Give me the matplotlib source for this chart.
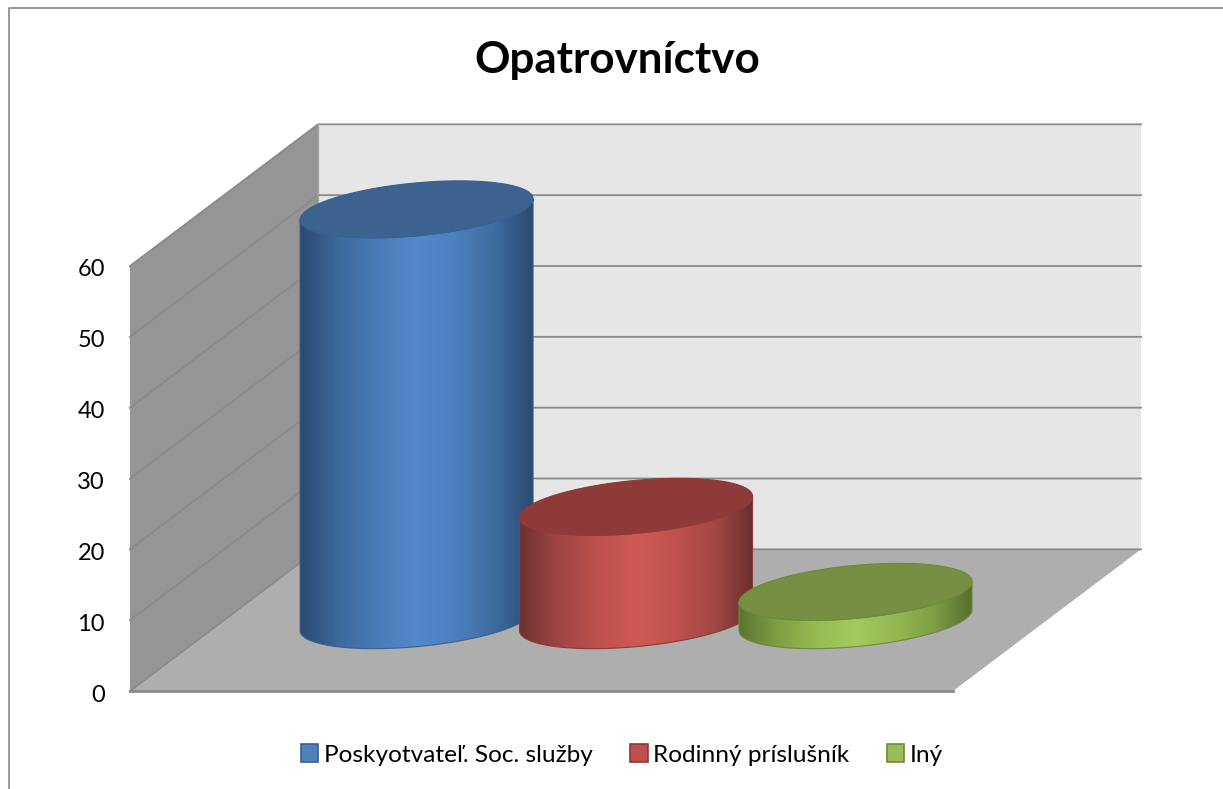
import matplotlib
matplotlib.use('Agg')
import matplotlib.pyplot as plt
import numpy as np
from matplotlib.colors import LinearSegmentedColormap
from matplotlib.patches import Patch, PathPatch, Polygon
from matplotlib.path import Path
from matplotlib.transforms import ScaledTranslation

plt.rcParams['font.family'] = ['Lato', 'DejaVu Sans']

categories = ['Poskyotvateľ. Soc. služby', 'Rodinný príslušník', 'Iný']
values = [58, 16, 4]
yticks = [0, 10, 20, 30, 40, 50, 60]
title = 'Opatrovníctvo'

side_colors = [
    ['#2b4a72', '#3d699c', '#4a7cb8', '#5588cc', '#4d80bf', '#3f6ca0', '#2b4a72'],
    ['#6e3230', '#a04643', '#bd504c', '#cf5a54', '#c0514d', '#a44845', '#6b302e'],
    ['#5c7530', '#7f9f45', '#97bb54', '#a4c95f', '#96b954', '#7f9f45', '#566e2d'],
]
top_colors = ['#3c6290', '#8e3a38', '#768f42']
edge_colors = ['#3a6090', '#8e3a38', '#6f8a3a']
legend_colors = ['#4f81bd', '#c0504d', '#9bbb59']

W, H = 1223, 789
# floor / wall geometry, one category spans 3 x units
x_scale = 823 / 3
y_scale = 425 / 60
depth_x = 188 / x_scale
depth_y = 20
bar_step = 0.8
bar_gap = 0.302
rx = 116.5 / x_scale
ry = 3.74
shear = 0.09 * x_scale / y_scale

fig = plt.figure(figsize=(W / 100, H / 100), dpi=100)
ax = fig.add_axes([0, 0, 1, 1])
ax.patch.set_visible(False)

# frame of the chart area
fig.add_artist(plt.Line2D([8.5 / W, 8.5 / W, 1], [0, 1 - 7.5 / H, 1 - 7.5 / H],
                          color='#878787', lw=1.2))

grid = '#8a8a8a'
ax.add_patch(Polygon([(0, 0), (3, 0), (3 + depth_x, depth_y), (depth_x, depth_y)],
                     fc='#aeaeae', ec='none', zorder=1))
ax.add_patch(Polygon([(0, 0), (depth_x, depth_y), (depth_x, 60 + depth_y), (0, 60)],
                     fc='#959595', ec='none', zorder=1))
ax.add_patch(Polygon([(depth_x, depth_y), (3 + depth_x, depth_y), (3 + depth_x, 60 + depth_y), (depth_x, 60 + depth_y)],
                     fc='#e6e6e6', ec='none', zorder=1))
for v in yticks:
    ax.plot([0, depth_x, 3 + depth_x], [v, v + depth_y, v + depth_y], color=grid, lw=1.3, zorder=2,
            solid_joinstyle='miter')
ax.plot([0, 3], [0, 0], color=grid, lw=2, zorder=2)
ax.plot([depth_x, depth_x], [depth_y, 60 + depth_y], color='#a8a8a8', lw=1, zorder=2)


def ellipse_xy(cx, cy, t):
    x = cx + rx * np.cos(t)
    y = cy + ry * np.sin(t) + shear * (x - cx)
    return x, y


z = 3
for i, v in enumerate(values):
    cx = bar_gap + bar_step / 2 + i * bar_step + depth_x / 2
    base = depth_y / 2
    top = base + v

    # body outline: lower half of the base ellipse, then up to the top ellipse
    t_low = np.linspace(np.pi, 2 * np.pi, 80)
    xb, yb = ellipse_xy(cx, base, t_low)
    xt, yt = ellipse_xy(cx, top, t_low[::-1])
    body = np.column_stack([np.r_[xb, xt], np.r_[yb, yt]])
    body_path = Path(np.vstack([body, body[0]]), closed=True)
    edge = PathPatch(body_path, fc='none', ec=edge_colors[i], lw=0.8, zorder=z + 0.2)
    ax.add_patch(edge)

    cmap = LinearSegmentedColormap.from_list('side%d' % i, side_colors[i])
    im = ax.imshow(np.linspace(0, 1, 256).reshape(1, -1), cmap=cmap, aspect='auto',
                   extent=[cx - rx, cx + rx, base - 2 * ry, top + 2 * ry], zorder=z,
                   interpolation='bilinear')
    im.set_clip_path(PathPatch(body_path, transform=ax.transData))

    t = np.linspace(0, 2 * np.pi, 160)
    xe, ye = ellipse_xy(cx, top, t)
    ax.fill(xe, ye, fc=top_colors[i], ec=edge_colors[i], lw=0.8, zorder=z + 0.3)
    z += 1

ax.set_xlim(-130 / x_scale, (W - 130) / x_scale)
ax.set_ylim((691 - H) / y_scale, 691 / y_scale)

for s in ['top', 'right', 'bottom']:
    ax.spines[s].set_visible(False)
ax.spines['left'].set_position(('data', 0))
ax.spines['left'].set_visible(False)
ax.set_xticks([])
ax.set_yticks(yticks)
ax.tick_params(axis='y', length=1, width=1, color=grid, pad=17, labelsize=17, labelcolor='black')
# labels sit a little under their gridline
nudge = ScaledTranslation(0, -2 / 100, fig.dpi_scale_trans)
for lab in ax.get_yticklabels():
    lab.set_transform(lab.get_transform() + nudge)

fig.text(617 / W, 1 - 60 / H, title, ha='center', va='center', fontsize=31.7, fontweight='bold')

handles = [Patch(fc=c, ec=e, lw=1.2) for c, e in zip(legend_colors, edge_colors)]
fig.legend(handles, categories, ncol=3, frameon=False, fontsize=17.6, loc='center',
           bbox_to_anchor=(622 / W, 1 - 755 / H), handlelength=0.7, handleheight=0.7,
           handletextpad=0.22, columnspacing=1.55)

plt.savefig('out.png', dpi=100)
